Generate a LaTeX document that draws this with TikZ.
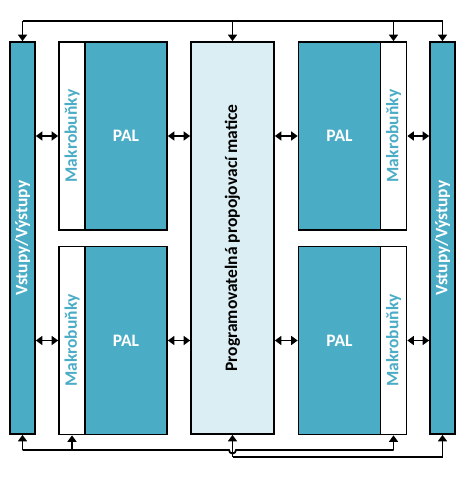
\documentclass[tikz,border=0pt]{standalone}
\usepackage{fontspec}
\setmainfont{Carlito}
\usetikzlibrary{arrows.meta}
\definecolor{teal1}{HTML}{4BACC6}
\definecolor{light1}{HTML}{DAEEF3}
\tikzset{
  blk/.style={draw=black, line width=1.7pt, inner sep=0pt, font=\bfseries\fontsize{17.5}{17.5}\selectfont},
  io/.style={blk, fill=teal1, text=white, minimum width=25pt, minimum height=392pt},
  pal/.style={blk, fill=teal1, text=white, minimum width=82pt, minimum height=188pt},
  mac/.style={blk, fill=white, text=teal1, minimum width=26pt, minimum height=188pt},
  mat/.style={blk, fill=light1, text=black, minimum width=83pt, minimum height=392pt},
  wire/.style={draw=black, line width=1.8pt},
  arr/.style={wire, -{Triangle[width=9pt,length=6.5pt]}},
  dbl/.style={wire, {Triangle[width=9pt,length=6.5pt]}-{Triangle[width=9pt,length=6.5pt]}}
}
\begin{document}
\begin{tikzpicture}[x=1pt,y=-1pt]
\useasboundingbox (0,0) rectangle (464,478);
% blocks
\node[io] (ioL) at (22.5,238) {\rotatebox{90}{Vstupy/Výstupy}};
\node[io] (ioR) at (442.5,238) {\rotatebox{90}{Vstupy/Výstupy}};
\node[mat] (mat) at (232.5,238) {\rotatebox{90}{Programovatelná propojovací matice}};
\node[mac] (macL1) at (72,136) {\rotatebox{90}{Makrobuňky}};
\node[pal] (palL1) at (126,136) {PAL};
\node[mac] (macL2) at (72,340.5) {\rotatebox{90}{Makrobuňky}};
\node[pal] (palL2) at (126,340.5) {PAL};
\node[pal] (palR1) at (339.5,136) {PAL};
\node[mac] (macR1) at (393.5,136) {\rotatebox{90}{Makrobuňky}};
\node[pal] (palR2) at (339.5,340.5) {PAL};
\node[mac] (macR2) at (393.5,340.5) {\rotatebox{90}{Makrobuňky}};
% bus coordinates
\coordinate (top) at (0,21);
\coordinate (botA) at (0,450);
\coordinate (botB) at (0,457);
% top bus
\draw[wire] (ioL.north |- top) -- (ioR.north |- top);
\draw[arr] (ioL.north |- top) -- (ioL.north);
\draw[arr] (mat.north |- top) -- (mat.north);
\draw[arr] (macR1.north |- top) -- (macR1.north);
\draw[arr] (ioR.north |- top) -- (ioR.north);
% bottom bus A (with hop over matrix line)
\draw[wire] (ioL.south |- botA) -- ([xshift=-3.5pt]mat.south |- botA)
  arc[start angle=180, end angle=360, radius=3.5pt] -- (macR2.south |- botA);
\draw[arr] (ioL.south |- botA) -- (ioL.south);
\draw[arr] (macL2.south |- botA) -- (macL2.south);
\draw[arr] (macR2.south |- botA) -- (macR2.south);
% bottom bus B
\draw[wire] (mat.south |- botB) -- (ioR.south |- botB);
\draw[arr] (mat.south |- botB) -- (mat.south);
\draw[arr] (ioR.south |- botB) -- (ioR.south);
% horizontal double arrows
\draw[dbl] (ioL.east |- macL1.center) -- (macL1.west);
\draw[dbl] (palL1.east) -- (palL1.east -| mat.west);
\draw[dbl] (mat.east |- palR1.center) -- (palR1.west);
\draw[dbl] (macR1.east) -- (macR1.east -| ioR.west);
\draw[dbl] (ioL.east |- macL2.center) -- (macL2.west);
\draw[dbl] (palL2.east) -- (palL2.east -| mat.west);
\draw[dbl] (mat.east |- palR2.center) -- (palR2.west);
\draw[dbl] (macR2.east) -- (macR2.east -| ioR.west);
\end{tikzpicture}
\end{document}
